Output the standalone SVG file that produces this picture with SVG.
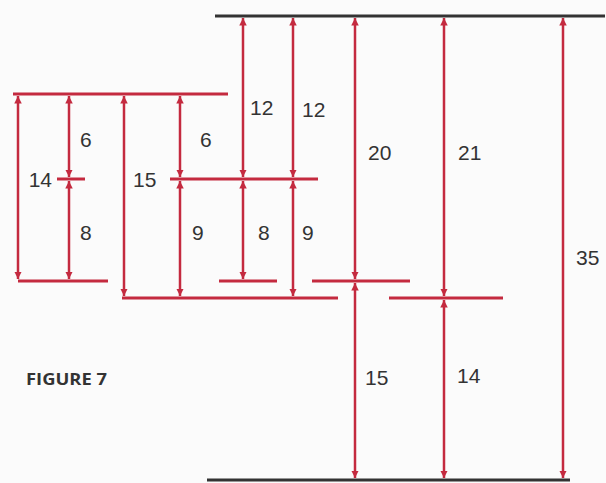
<svg xmlns="http://www.w3.org/2000/svg" width="606" height="483" viewBox="0 0 606 483">
<style>
.bk{stroke:#333;stroke-width:3;fill:none}
.rd{stroke:#c42a3f;stroke-width:3;fill:none}
.ar{stroke:#c42a3f;stroke-width:2.5;fill:none;marker-start:url(#ah);marker-end:url(#ah)}
.t{font-family:"Liberation Sans",Arial,sans-serif;font-size:21px;fill:#333}
.f{font-family:"Open Sans","Liberation Sans",sans-serif;font-weight:bold;font-size:16px;fill:#333}
</style>
<defs>
<marker id="ah" viewBox="0 0 10 10" refX="10" refY="5" markerWidth="3" markerHeight="3.2" orient="auto-start-reverse" markerUnits="strokeWidth">
<path d="M0,0 L10,5 L0,10 z" fill="#c42a3f"/>
</marker>
</defs>
<rect width="606" height="483" fill="#fbfbfb"/>
<g id="levels">
<line class="bk" x1="215" y1="16" x2="605" y2="16"/>
<line class="bk" x1="207" y1="480" x2="570" y2="480"/>
<line class="rd" x1="13" y1="94" x2="228" y2="94"/>
<line class="rd" x1="57" y1="179" x2="85" y2="179"/>
<line class="rd" x1="170" y1="179" x2="318" y2="179"/>
<line class="rd" x1="18" y1="281" x2="108" y2="281"/>
<line class="rd" x1="219" y1="281" x2="277" y2="281"/>
<line class="rd" x1="312" y1="281" x2="410" y2="281"/>
<line class="rd" x1="122" y1="298" x2="338" y2="298"/>
<line class="rd" x1="389" y1="298" x2="503" y2="298"/>
</g>
<g id="connectors">
<line class="ar" x1="18" y1="96" x2="18" y2="279"/>
<line class="ar" x1="69" y1="96" x2="69" y2="177"/>
<line class="ar" x1="69" y1="181" x2="69" y2="279"/>
<line class="ar" x1="124" y1="96" x2="124" y2="296"/>
<line class="ar" x1="180" y1="96" x2="180" y2="177"/>
<line class="ar" x1="180" y1="181" x2="180" y2="296"/>
<line class="ar" x1="243" y1="18" x2="243" y2="177"/>
<line class="ar" x1="243" y1="181" x2="243" y2="279"/>
<line class="ar" x1="293" y1="18" x2="293" y2="177"/>
<line class="ar" x1="293" y1="181" x2="293" y2="296"/>
<line class="ar" x1="355" y1="18" x2="355" y2="279"/>
<line class="ar" x1="355" y1="283" x2="355" y2="478"/>
<line class="ar" x1="444" y1="18" x2="444" y2="296"/>
<line class="ar" x1="444" y1="300" x2="444" y2="478"/>
<line class="ar" x1="563" y1="18" x2="563" y2="478"/>
</g>
<g id="labels">
<text class="t" x="52" y="187" text-anchor="end">14</text>
<text class="t" x="80" y="147">6</text>
<text class="t" x="80" y="240">8</text>
<text class="t" x="133" y="187">15</text>
<text class="t" x="200" y="147">6</text>
<text class="t" x="192" y="240">9</text>
<text class="t" x="250" y="115">12</text>
<text class="t" x="258" y="240">8</text>
<text class="t" x="302" y="117">12</text>
<text class="t" x="302" y="240">9</text>
<text class="t" x="368" y="160">20</text>
<text class="t" x="365" y="385">15</text>
<text class="t" x="458" y="160">21</text>
<text class="t" x="457" y="383">14</text>
<text class="t" x="576" y="265">35</text>
<text class="f" x="26" y="385" textLength="81" lengthAdjust="spacingAndGlyphs">FIGURE 7</text>
</g>
</svg>
